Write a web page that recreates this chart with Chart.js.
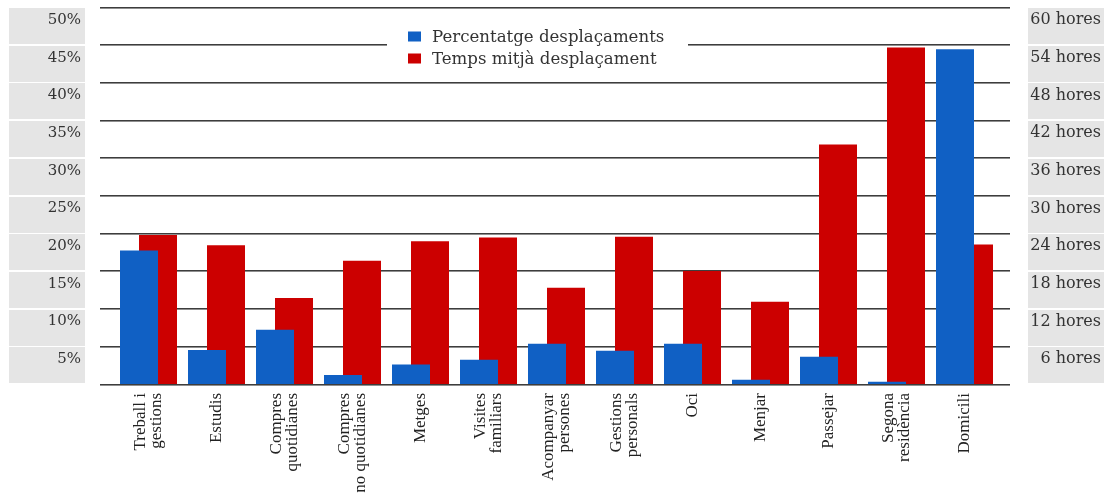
<!DOCTYPE html>
<html>
<head>
<meta charset="utf-8">
<title>Desplaçaments</title>
<script src="https://cdn.jsdelivr.net/npm/chart.js@4.4.0/dist/chart.umd.min.js"></script>
<style>
  html, body { margin: 0; padding: 0; background: #fff; }
  #wrap { width: 1107px; height: 497px; }
</style>
</head>
<body>
<div id="wrap"><canvas id="chart" width="1107" height="497"></canvas></div>
<script>
// Categories (multi-line labels)
const categories = [
    ['Treball i', 'gestions'],
    ['Estudis'],
    ['Compres', 'quotidianes'],
    ['Compres', 'no quotidianes'],
    ['Metges'],
    ['Visites', 'familiars'],
    ['Acompanyar', 'persones'],
    ['Gestions', 'personals'],
    ['Oci'],
    ['Menjar'],
    ['Passejar'],
    ['Segona', 'residència'],
    ['Domicili']
];

// Series values
const percentValues = [17.7, 4.5, 7.2, 1.2, 2.6, 3.2, 5.35, 4.4, 5.35, 0.55, 3.6, 0.3, 44.4];
const hoursValues = [23.7, 22.1, 13.7, 19.6, 22.7, 23.3, 15.3, 23.45, 18.0, 13.1, 38.1, 53.55, 22.2];

// Tick labels
const leftTickLabels = ['', '5%', '10%', '15%', '20%', '25%', '30%', '35%', '40%', '45%', '50%'];
const rightTickLabels = ['', '6 hores', '12 hores', '18 hores', '24 hores', '30 hores',
    '36 hores', '42 hores', '48 hores', '54 hores', '60 hores'];

const BLUE = '#1060c4';
const RED = '#cc0000';

// Gray boxes behind the axis labels
const labelBoxes = {
    id: 'labelBoxes',
    beforeDraw(chart) {
        const ctx = chart.ctx;
        const y = chart.scales.y;
        ctx.save();
        ctx.fillStyle = '#e5e5e5';
        for (let i = 1; i < y.ticks.length; i++) {
            const top = y.getPixelForValue(y.ticks[i].value);
            const bottom = y.getPixelForValue(y.ticks[i - 1].value);
            ctx.fillRect(9, Math.round(top) + 1, 76, Math.round(bottom - top) - 2);
            ctx.fillRect(1028, Math.round(top) + 1, 76, Math.round(bottom - top) - 2);
        }
        ctx.restore();
    }
};

// Horizontal lines, wider than the chart area
const gridLines = {
    id: 'gridLines',
    beforeDatasetsDraw(chart) {
        const ctx = chart.ctx;
        const y = chart.scales.y;
        ctx.save();
        y.ticks.forEach(t => {
            const py = Math.floor(y.getPixelForValue(t.value));
            ctx.fillStyle = '#3d3d3d';
            ctx.fillRect(100, py, 910, 1);
            ctx.fillStyle = '#8f8f8f';
            ctx.fillRect(100, py + 1, 910, 1);
        });
        ctx.restore();
    }
};

// Legend on a white box in the middle
const boxLegend = {
    id: 'boxLegend',
    afterDatasetsDraw(chart) {
        const ctx = chart.ctx;
        ctx.save();
        ctx.fillStyle = '#fff';
        ctx.fillRect(387, 25, 301, 46);
        ctx.font = '16.6px "DejaVu Serif"';
        ctx.textBaseline = 'alphabetic';
        ctx.textAlign = 'left';
        chart.data.datasets.forEach((ds, i) => {
            const rowY = 41.5 + i * 22;
            ctx.fillStyle = ds.backgroundColor;
            ctx.fillRect(408, rowY - 10, 13, 10);
            ctx.fillStyle = '#333';
            ctx.fillText(ds.label, 432, rowY);
        });
        ctx.restore();
    }
};

// Rotated category labels, lines centred on the category
const xLabels = {
    id: 'xLabels',
    afterDraw(chart) {
        const ctx = chart.ctx;
        const x = chart.scales.x;
        const lineGap = 16.5;
        ctx.save();
        ctx.font = '17px "Liberation Serif"';
        ctx.fillStyle = '#222';
        ctx.textAlign = 'right';
        ctx.textBaseline = 'middle';
        categories.forEach((lines, i) => {
            const px = x.getPixelForValue(i);
            lines.forEach((line, j) => {
                const off = (j - (lines.length - 1) / 2) * lineGap;
                ctx.save();
                ctx.translate(px + off, x.top + 9);
                ctx.rotate(-Math.PI / 2);
                ctx.fillText(line, 0, 0);
                ctx.restore();
            });
        });
        ctx.restore();
    }
};

new Chart(document.getElementById('chart'), {
    type: 'bar',
    data: {
        labels: categories,
        datasets: [{
            label: 'Percentatge desplaçaments',
            data: percentValues,
            backgroundColor: BLUE,
            yAxisID: 'y',
            order: 0
        }, {
            label: 'Temps mitjà desplaçament',
            data: hoursValues,
            backgroundColor: RED,
            yAxisID: 'y1',
            order: 1
        }]
    },
    options: {
        responsive: false,
        animation: false,
        categoryPercentage: 38 / 68,
        barPercentage: 2,
        layout: { padding: { top: 7, right: 6, left: 0, bottom: 0 } },
        plugins: {
            legend: { display: false },
            tooltip: { enabled: false }
        },
        scales: {
            x: {
                offset: true,
                grid: { display: false, drawTicks: false },
                border: { display: false },
                ticks: { display: false },
                afterFit(s) {
                    s.height = 113;
                    s.paddingLeft = 0;
                    s.paddingRight = 0;
                }
            },
            y: {
                position: 'left',
                min: 0,
                max: 50,
                grid: { display: false, drawTicks: false },
                border: { display: false },
                ticks: {
                    stepSize: 5,
                    padding: 33.5,
                    labelOffset: 13,
                    color: '#333',
                    font: { family: 'DejaVu Serif', size: 15 },
                    autoSkip: false,
                    callback: (v, i) => leftTickLabels[i]
                },
                afterFit(s) {
                    s.width = 114.5;
                    s.paddingTop = 0;
                    s.paddingBottom = 0;
                }
            },
            y1: {
                position: 'right',
                min: 0,
                max: 60,
                grid: { display: false, drawTicks: false },
                border: { display: false },
                ticks: {
                    stepSize: 6,
                    crossAlign: 'far',
                    labelOffset: 13,
                    color: '#333',
                    font: { family: 'DejaVu Serif', size: 16 },
                    autoSkip: false,
                    callback: (v, i) => rightTickLabels[i]
                },
                afterFit(s) {
                    s.width = 102.5;
                    s.paddingTop = 0;
                    s.paddingBottom = 0;
                }
            }
        }
    },
    plugins: [labelBoxes, gridLines, boxLegend, xLabels]
});
</script>
</body>
</html>
